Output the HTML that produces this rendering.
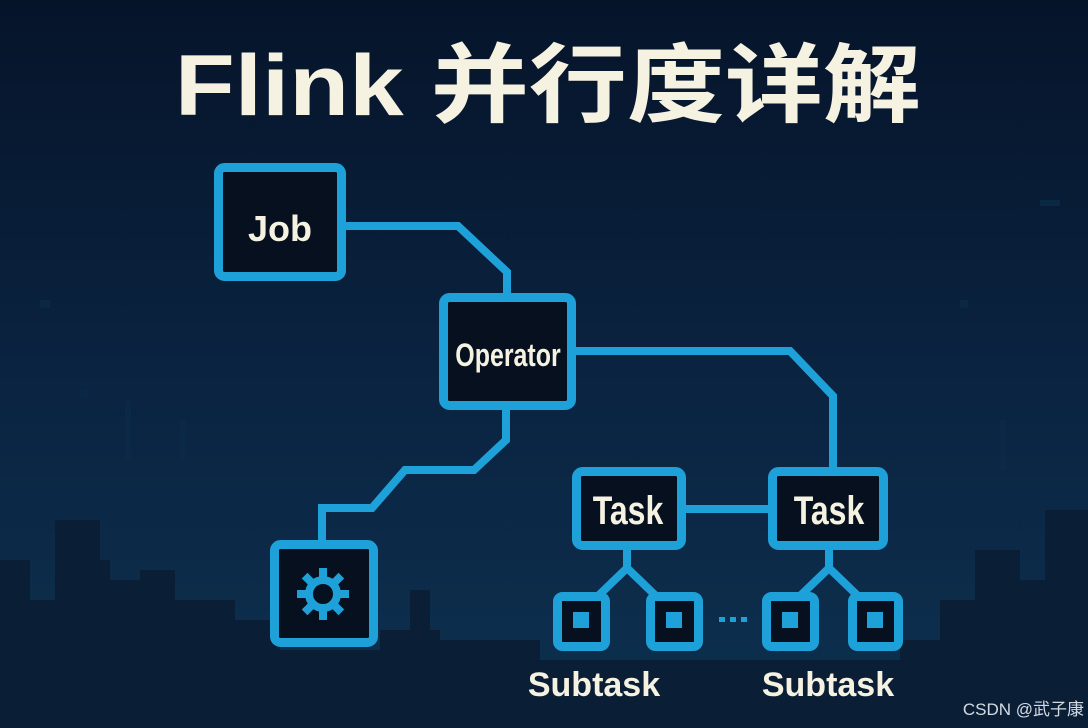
<!DOCTYPE html>
<html><head><meta charset="utf-8"><style>
html,body{margin:0;padding:0;width:1088px;height:728px;overflow:hidden;background:#071a30}
svg{display:block}
text{font-family:"Liberation Sans","Noto Sans CJK SC",sans-serif}
</style></head><body>
<svg width="1088" height="728" viewBox="0 0 1088 728" xmlns="http://www.w3.org/2000/svg">
<defs>
<linearGradient id="bg" x1="0" y1="0" x2="0" y2="1">
<stop offset="0" stop-color="#06142a"/><stop offset="0.5" stop-color="#0a2340"/><stop offset="1" stop-color="#0d3150"/>
</linearGradient>
</defs>
<rect width="1088" height="728" fill="url(#bg)"/>
<!-- skyline -->
<g fill="#0a1f36">
<rect x="0" y="560" width="30" height="170"/><rect x="30" y="600" width="25" height="130"/>
<rect x="55" y="520" width="45" height="210"/><rect x="80" y="560" width="30" height="170"/>
<rect x="110" y="580" width="35" height="150"/><rect x="140" y="570" width="35" height="160"/>
<rect x="175" y="600" width="60" height="130"/><rect x="230" y="620" width="50" height="110"/>
<rect x="270" y="650" width="120" height="80"/>
<rect x="380" y="630" width="60" height="100"/><rect x="410" y="590" width="20" height="140"/>
<rect x="440" y="640" width="100" height="90"/><rect x="520" y="660" width="480" height="70"/>
<rect x="900" y="640" width="60" height="90"/><rect x="940" y="600" width="40" height="130"/>
<rect x="975" y="550" width="45" height="180"/><rect x="1015" y="580" width="35" height="150"/>
<rect x="1045" y="510" width="43" height="220"/>
</g>
<g fill="#0b2a48" opacity="0.8">
<rect x="80" y="390" width="8" height="8"/><rect x="125" y="400" width="6" height="60"/><rect x="180" y="420" width="6" height="40"/>
<rect x="960" y="300" width="8" height="8"/><rect x="1000" y="420" width="6" height="50"/>
<rect x="1040" y="200" width="20" height="6"/><rect x="40" y="300" width="10" height="8"/>
</g>
<!-- title -->
<text x="548" y="115" text-anchor="middle" font-size="86" font-weight="bold" fill="#f5f2e1" transform="translate(548 0) scale(1.14 1) translate(-548 0)">Flink 并行度详解</text>
<!-- connectors -->
<g fill="none" stroke="#1ea0d8" stroke-width="8" stroke-linejoin="miter">
<polyline points="346,226 458,226 507,272 507,296"/>
<polyline points="576,351 790,351 833,396 833,470"/>
<polyline points="506,408 506,440 474,470 405,470 372,508 322,508 322,542"/>
<line x1="684" y1="509" x2="770" y2="509"/>
<polyline points="627,548 627,568 598,596"/><polyline points="627,568 656,596"/>
<polyline points="829,548 829,568 800,596"/><polyline points="829,568 858,596"/>
</g>
<!-- boxes -->
<g fill="#06101e" stroke="#1ea0d8" stroke-width="9">
<rect x="218.5" y="167.5" width="123" height="109" rx="6"/>
<rect x="443.5" y="297.5" width="128" height="108" rx="6"/>
<rect x="274.5" y="544.5" width="99" height="98" rx="6"/>
<rect x="576.5" y="471.5" width="105" height="74" rx="6"/>
<rect x="772.5" y="471.5" width="111" height="74" rx="6"/>
<rect x="557.5" y="596.5" width="48" height="50" rx="5"/>
<rect x="650.5" y="596.5" width="48" height="50" rx="5"/>
<rect x="766.5" y="596.5" width="48" height="50" rx="5"/>
<rect x="852.5" y="596.5" width="46" height="50" rx="5"/>
</g>
<g fill="#1ea0d8">
<rect x="573" y="612" width="16" height="16"/><rect x="666" y="612" width="16" height="16"/>
<rect x="782" y="612" width="16" height="16"/><rect x="867" y="612" width="16" height="16"/>
<rect x="719" y="617" width="6" height="5"/><rect x="730" y="617" width="6" height="5"/><rect x="741" y="617" width="6" height="5"/>
</g>
<!-- gear -->
<g transform="translate(323,594)">
<circle r="14" fill="none" stroke="#1ea0d8" stroke-width="8"/>
<g fill="#1ea0d8">
<rect x="-4" y="-26" width="8" height="10"/><rect x="-4" y="16" width="8" height="10"/>
<rect x="-26" y="-4" width="10" height="8"/><rect x="16" y="-4" width="10" height="8"/>
<rect x="-4" y="-26" width="8" height="10" transform="rotate(45)"/><rect x="-4" y="-26" width="8" height="10" transform="rotate(135)"/>
<rect x="-4" y="-26" width="8" height="10" transform="rotate(225)"/><rect x="-4" y="-26" width="8" height="10" transform="rotate(315)"/>
</g>
</g>
<!-- labels -->
<g fill="#f5f2e1" font-weight="bold" text-anchor="middle">
<text x="280" y="241" font-size="36">Job</text>
<text x="508" y="366" font-size="32" transform="translate(508 0) scale(0.78 1) translate(-508 0)">Operator</text>
<text x="628" y="524" font-size="40" transform="translate(628 0) scale(0.8 1) translate(-628 0)">Task</text>
<text x="829" y="524" font-size="40" transform="translate(829 0) scale(0.8 1) translate(-829 0)">Task</text>
<text x="594" y="696" font-size="34">Subtask</text>
<text x="828" y="696" font-size="34">Subtask</text>
</g>
<text x="1084" y="715" text-anchor="end" font-size="17" fill="#e8eef5" opacity="0.9">CSDN @武子康</text>
</svg>
</body></html>
